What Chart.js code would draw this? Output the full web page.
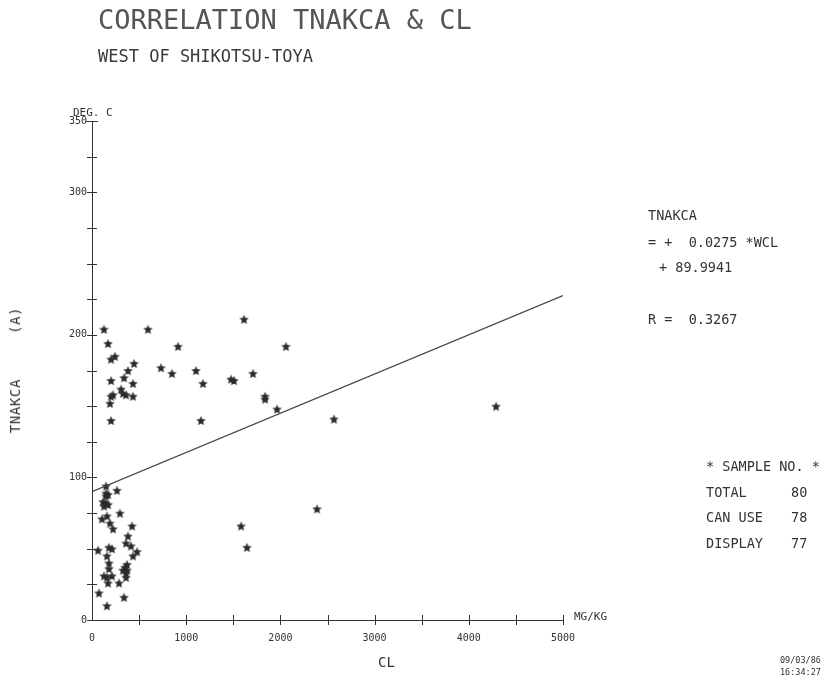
<!DOCTYPE html>
<html>
<head>
<meta charset="utf-8">
<script src="https://cdn.jsdelivr.net/npm/chart.js@4/dist/chart.umd.min.js"></script>
<style>
  body { margin: 0; background: #fff; }
  #wrap { position: relative; width: 821px; height: 685px; font-family: "DejaVu Sans Mono", monospace; color: #333; }
  #chart { position: absolute; left: 0; top: 0; }
  .t { position: absolute; white-space: pre; line-height: 1; }
</style>
</head>
<body>
<div id="wrap">
  <canvas id="chart" width="821" height="685"></canvas>
  <div class="t" style="left:98px;top:6px;font-size:27px;color:#555">CORRELATION TNAKCA &amp; CL</div>
  <div class="t" style="left:98px;top:48px;font-size:17px;color:#3a3a3a">WEST OF SHIKOTSU-TOYA</div>
  <div class="t" style="left:73px;top:107px;font-size:11px">DEG. C</div>
  <div class="t" style="left:574px;top:611px;font-size:11px">MG/KG</div>
  <div class="t" style="left:378px;top:655px;font-size:14px">CL</div>
  <div class="t" style="left:15px;top:370px;font-size:14px;letter-spacing:0.6px;transform:translate(-50%,-50%) rotate(-90deg)">TNAKCA     (A)</div>
  <div class="t" style="left:648px;top:209px;font-size:13.5px">TNAKCA</div>
  <div class="t" style="left:648px;top:236px;font-size:13.5px">= +  0.0275 *WCL</div>
  <div class="t" style="left:659px;top:261px;font-size:13.5px">+ 89.9941</div>
  <div class="t" style="left:648px;top:313px;font-size:13.5px">R =  0.3267</div>
  <div class="t" style="left:706px;top:460px;font-size:13.5px">* SAMPLE NO. *</div>
  <div class="t" style="left:706px;top:486px;font-size:13.5px">TOTAL</div>
  <div class="t" style="left:791px;top:486px;font-size:13.5px">80</div>
  <div class="t" style="left:706px;top:511px;font-size:13.5px">CAN USE</div>
  <div class="t" style="left:791px;top:511px;font-size:13.5px">78</div>
  <div class="t" style="left:706px;top:537px;font-size:13.5px">DISPLAY</div>
  <div class="t" style="left:791px;top:537px;font-size:13.5px">77</div>
  <div class="t" style="left:780px;top:656px;font-size:8.5px">09/03/86</div>
  <div class="t" style="left:780px;top:668px;font-size:8.5px">16:34:27</div>
</div>
<script>
// CL (mg/kg) and TNAKCA (deg C)
const clValues = [
  127, 594, 170, 913, 202, 244, 446, 732, 849, 1104,
  382, 202, 340, 435, 308, 223, 202, 329, 361, 435,
  191, 202, 1614, 2059, 1178, 1476, 1507, 1709, 1837, 1837,
  1964, 1157, 2569, 4289, 2389, 1582, 1645, 149, 265, 149,
  170, 149, 117, 149, 170, 127, 297, 106, 159, 191,
  223, 425, 382, 361, 414, 64, 180, 212, 478, 435,
  159, 180, 372, 350, 372, 329, 361, 180, 127, 212,
  159, 361, 170, 287, 74, 340, 159
];
const tnakcaValues = [
  204, 204, 194, 192, 183, 185, 180, 177, 173, 175,
  175, 168, 170, 166, 162, 158, 157, 159, 158, 157,
  152, 140, 211, 192, 166, 169, 168, 173, 157, 155,
  148, 140, 141, 150, 78, 66, 51, 94, 91, 89,
  88, 87, 83, 82, 81, 80, 75, 71, 73, 68,
  64, 66, 59, 54, 52, 49, 51, 50, 48, 45,
  45, 40, 39, 37, 35, 35, 33, 36, 31, 31,
  30, 30, 26, 26, 19, 16, 10
];

// regression line end points (TNAKCA = 0.0275 * CL + 89.9941)
const lineX = [0, 5000];
const lineY = [90.0, 227.5];

const xTickLabels = [0, 1000, 2000, 3000, 4000, 5000];
const yTickLabels = [0, 100, 200, 300, 350];

// five pointed star marker
function makeStar(size) {
  const c = document.createElement('canvas');
  c.width = size; c.height = size;
  const g = c.getContext('2d');
  const r = size / 2, ri = r * 0.42;
  g.beginPath();
  for (let i = 0; i < 10; i++) {
    const rad = i % 2 ? ri : r - 0.5;
    const a = -Math.PI / 2 + i * Math.PI / 5;
    const px = r + rad * Math.cos(a), py = r + 0.6 + rad * Math.sin(a);
    i ? g.lineTo(px, py) : g.moveTo(px, py);
  }
  g.closePath();
  g.fillStyle = '#2b2b2b';
  g.fill();
  return c;
}

// tick marks crossing the axes
const crossTicks = {
  id: 'crossTicks',
  afterDraw(chart) {
    const { ctx, chartArea: a, scales: { x, y } } = chart;
    ctx.save();
    ctx.strokeStyle = '#333';
    ctx.lineWidth = 1;
    y.ticks.forEach(t => {
      const py = Math.round(y.getPixelForValue(t.value)) + 0.5;
      const w = t.value === 350 ? 6 : 5;
      ctx.beginPath();
      ctx.moveTo(a.left - w, py);
      ctx.lineTo(a.left + w, py);
      ctx.stroke();
    });
    x.ticks.forEach(t => {
      if (t.value === 0) return;
      const px = Math.round(x.getPixelForValue(t.value)) + 0.5;
      ctx.beginPath();
      ctx.moveTo(px, a.bottom - 5);
      ctx.lineTo(px, a.bottom + 5);
      ctx.stroke();
    });
    ctx.restore();
  }
};

const tickFont = { family: 'DejaVu Sans Mono', size: 10 };

new Chart(document.getElementById('chart'), {
  type: 'scatter',
  data: {
    datasets: [
      {
        type: 'line',
        data: lineX.map((v, i) => ({ x: v, y: lineY[i] })),
        borderColor: '#444',
        borderWidth: 1.2,
        pointRadius: 0,
        fill: false
      },
      {
        data: clValues.map((v, i) => ({ x: v, y: tnakcaValues[i] })),
        pointStyle: makeStar(11),
        pointRadius: 5
      }
    ]
  },
  options: {
    responsive: false,
    animation: false,
    layout: { padding: { left: 0, right: 258, top: 121, bottom: 0 } },
    plugins: { legend: { display: false }, tooltip: { enabled: false } },
    scales: {
      x: {
        type: 'linear', min: 0, max: 5000,
        afterFit(s) { s.height = 65; },
        grid: { display: false, drawTicks: false, tickLength: 0 },
        border: { display: true, color: '#333', width: 1 },
        ticks: {
          stepSize: 500, autoSkip: false, maxRotation: 0, padding: 12,
          color: '#333', font: tickFont,
          callback: v => xTickLabels.includes(v) ? String(v) : ''
        }
      },
      y: {
        type: 'linear', min: 0, max: 350,
        afterFit(s) { s.width = 92; },
        grid: { display: false, drawTicks: false, tickLength: 0 },
        border: { display: true, color: '#333', width: 1 },
        ticks: {
          stepSize: 25, autoSkip: false, padding: 5,
          color: '#333', font: tickFont,
          callback: v => yTickLabels.includes(v) ? String(v) : ''
        }
      }
    }
  },
  plugins: [crossTicks]
});
</script>
</body>
</html>
